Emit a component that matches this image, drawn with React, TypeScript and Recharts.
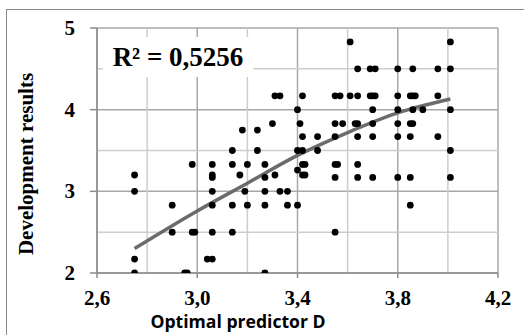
import React from 'react';
import {
  ScatterChart,
  Scatter,
  XAxis,
  YAxis,
  CartesianGrid,
  ReferenceLine,
  Label,
} from 'recharts';

// ============================================
// Development results vs optimal predictor D
// ============================================

const X_TICKS = [2.6, 3.0, 3.4, 3.8, 4.2];
const X_MINOR = [2.8, 3.2, 3.6, 4.0];
const Y_TICKS = [2, 3, 4, 5];
const Y_MINOR = [2.5, 3.5, 4.5];

// observed points, grouped by result level
const row483 = [
  { x: 3.61, y: 4.83 }, { x: 4.01, y: 4.83 },
];
const row450 = [
  { x: 3.64, y: 4.5 }, { x: 3.69, y: 4.5 }, { x: 3.71, y: 4.5 }, { x: 3.8, y: 4.5 },
  { x: 3.86, y: 4.5 }, { x: 3.96, y: 4.5 }, { x: 4.01, y: 4.5 },
];
const row417 = [
  { x: 3.31, y: 4.17 }, { x: 3.33, y: 4.17 }, { x: 3.42, y: 4.17 }, { x: 3.55, y: 4.17 },
  { x: 3.57, y: 4.17 }, { x: 3.61, y: 4.17 }, { x: 3.64, y: 4.17 }, { x: 3.69, y: 4.17 },
  { x: 3.7, y: 4.17 }, { x: 3.71, y: 4.17 }, { x: 3.8, y: 4.17 }, { x: 3.85, y: 4.17 },
  { x: 3.86, y: 4.17 }, { x: 3.87, y: 4.17 }, { x: 3.96, y: 4.17 },
];
const row400 = [
  { x: 3.4, y: 4.0 }, { x: 3.7, y: 4.0 }, { x: 3.8, y: 4.0 }, { x: 3.86, y: 4.0 },
  { x: 3.9, y: 4.0 }, { x: 4.01, y: 4.0 },
];
const row383 = [
  { x: 3.3, y: 3.83 }, { x: 3.41, y: 3.83 }, { x: 3.55, y: 3.83 }, { x: 3.58, y: 3.83 },
  { x: 3.63, y: 3.83 }, { x: 3.64, y: 3.83 }, { x: 3.7, y: 3.83 }, { x: 3.8, y: 3.83 },
  { x: 3.85, y: 3.83 }, { x: 3.86, y: 3.83 },
];
const row375 = [
  { x: 3.18, y: 3.75 }, { x: 3.24, y: 3.75 },
];
const row367 = [
  { x: 3.42, y: 3.67 }, { x: 3.48, y: 3.67 }, { x: 3.55, y: 3.67 }, { x: 3.64, y: 3.67 },
  { x: 3.7, y: 3.67 }, { x: 3.8, y: 3.67 }, { x: 3.85, y: 3.67 }, { x: 3.96, y: 3.67 },
];
const row350 = [
  { x: 3.14, y: 3.5 }, { x: 3.24, y: 3.5 }, { x: 3.4, y: 3.5 }, { x: 3.42, y: 3.5 },
  { x: 3.48, y: 3.5 }, { x: 4.01, y: 3.5 },
];
const row333 = [
  { x: 2.98, y: 3.33 }, { x: 3.06, y: 3.33 }, { x: 3.14, y: 3.33 }, { x: 3.2, y: 3.33 },
  { x: 3.27, y: 3.33 }, { x: 3.42, y: 3.33 }, { x: 3.43, y: 3.33 }, { x: 3.55, y: 3.33 },
  { x: 3.56, y: 3.33 }, { x: 3.64, y: 3.33 },
];
const row320 = [
  { x: 3.4, y: 3.26 }, { x: 2.75, y: 3.2 }, { x: 3.06, y: 3.2 }, { x: 3.17, y: 3.2 },
  { x: 3.31, y: 3.2 }, { x: 3.42, y: 3.2 }, { x: 3.43, y: 3.2 },
];
const row317 = [
  { x: 3.06, y: 3.17 }, { x: 3.27, y: 3.17 }, { x: 3.55, y: 3.17 }, { x: 3.64, y: 3.17 },
  { x: 3.7, y: 3.17 }, { x: 3.8, y: 3.17 }, { x: 3.85, y: 3.17 }, { x: 4.01, y: 3.17 },
];
const row300 = [
  { x: 2.75, y: 3.0 }, { x: 3.06, y: 3.0 }, { x: 3.19, y: 3.0 }, { x: 3.27, y: 3.0 },
  { x: 3.33, y: 3.0 }, { x: 3.36, y: 3.0 },
];
const row283 = [
  { x: 2.9, y: 2.83 }, { x: 3.06, y: 2.83 }, { x: 3.14, y: 2.83 }, { x: 3.2, y: 2.83 },
  { x: 3.27, y: 2.83 }, { x: 3.36, y: 2.83 }, { x: 3.4, y: 2.83 }, { x: 3.85, y: 2.83 },
];
const row250 = [
  { x: 2.9, y: 2.5 }, { x: 2.98, y: 2.5 }, { x: 2.99, y: 2.5 }, { x: 3.06, y: 2.5 },
  { x: 3.14, y: 2.5 }, { x: 3.55, y: 2.5 },
];
const row217 = [
  { x: 2.75, y: 2.17 }, { x: 3.04, y: 2.17 }, { x: 3.06, y: 2.17 },
];
const row200 = [
  { x: 2.75, y: 2.0 }, { x: 2.95, y: 2.0 }, { x: 2.96, y: 2.0 }, { x: 3.27, y: 2.0 },
];

// trend curve
const trend = [
  { x: 2.75, y: 2.3 }, { x: 3.0, y: 2.76 }, { x: 3.2, y: 3.1 }, { x: 3.4, y: 3.44 },
  { x: 3.6, y: 3.72 }, { x: 3.8, y: 3.96 }, { x: 4.01, y: 4.13 },
];

const points = [
  ...row483, ...row450, ...row417, ...row400, ...row383, ...row375, ...row367, ...row350,
  ...row333, ...row320, ...row317, ...row300, ...row283, ...row250, ...row217, ...row200,
];

const SERIF = '"Liberation Serif", "Times New Roman", serif';
const AXIS = '#8c8c8c';

const fmtX = (v: number) => v.toFixed(1).replace('.', ',');

function XTick({ x, y, payload }: any) {
  return (
    <text x={x} y={y + 23} textAnchor="middle" fontFamily={SERIF} fontWeight="bold" fontSize={21} fill="#000">
      {fmtX(payload.value)}
    </text>
  );
}

function YTick({ x, y, payload }: any) {
  return (
    <text x={x} y={y + 7} textAnchor="end" fontFamily={SERIF} fontWeight="bold" fontSize={21} fill="#000">
      {payload.value}
    </text>
  );
}

export default function App() {
  return (
    <div style={{ position: 'absolute', left: 0, top: 0, width: 524, height: 335, overflow: 'hidden', background: '#fff' }}>
      {/* outer chart frame, runs off the page at right and bottom */}
      <div style={{ position: 'absolute', left: 6, top: 9, width: 600, height: 400, border: '1px solid #8a8a8a' }} />
      <ScatterChart
        width={524}
        height={335}
        margin={{ top: 28, right: 26, bottom: 0, left: 0 }}
        style={{ position: 'absolute', left: 0, top: 0 }}
      >
        <CartesianGrid stroke="#a8a8a8" strokeWidth={1.5} />
        {X_MINOR.map((v) => (
          <ReferenceLine key={`vx-${v}`} x={v} stroke="#cdcdcd" strokeWidth={1.5} />
        ))}
        {Y_MINOR.map((v) => (
          <ReferenceLine key={`hy-${v}`} y={v} stroke="#cdcdcd" strokeWidth={1.5} />
        ))}
        <XAxis
          type="number"
          dataKey="x"
          domain={[2.6, 4.2]}
          ticks={X_TICKS}
          height={62}
          tickSize={5}
          tickMargin={4}
          stroke={AXIS}
          strokeWidth={1.5}
          tick={<XTick />}
          allowDataOverflow
        >
          <Label
            content={() => (
              <text
                x={238}
                y={328}
                textAnchor="middle"
                fontFamily='"Open Sans", sans-serif'
                fontWeight="bold"
                fontSize={17.6}
                fill="#000"
              >
                Optimal predictor D
              </text>
            )}
          />
        </XAxis>
        <YAxis
          type="number"
          dataKey="y"
          domain={[2, 5]}
          ticks={Y_TICKS}
          width={97}
          tickSize={7}
          tickMargin={15}
          stroke={AXIS}
          strokeWidth={1.5}
          tick={<YTick />}
          allowDataOverflow
        >
          <Label
            content={() => (
              <text
                x={26}
                y={164}
                transform="rotate(-90 26 164)"
                textAnchor="middle"
                dominantBaseline="central"
                fontFamily={SERIF}
                fontWeight="bold"
                fontSize={21}
                fill="#000"
              >
                Development results
              </text>
            )}
          />
        </YAxis>
        <Scatter
          data={trend}
          line={{ stroke: '#6b6b6b', strokeWidth: 3.5 }}
          lineJointType="monotoneX"
          shape={() => <g />}
          isAnimationActive={false}
        />
        <Scatter
          data={points}
          shape={(p: any) => <circle cx={p.cx} cy={p.cy} r={3.4} fill="#000" />}
          isAnimationActive={false}
        />
      </ScatterChart>
      {/* R² annotation box */}
      <div
        style={{
          position: 'absolute',
          left: 103,
          top: 37,
          width: 150,
          height: 40,
          lineHeight: '40px',
          background: '#fff',
          textAlign: 'center',
          fontFamily: SERIF,
          fontWeight: 'bold',
          fontSize: 27,
          color: '#000',
        }}
      >
        R² = 0,5256
      </div>
    </div>
  );
}
